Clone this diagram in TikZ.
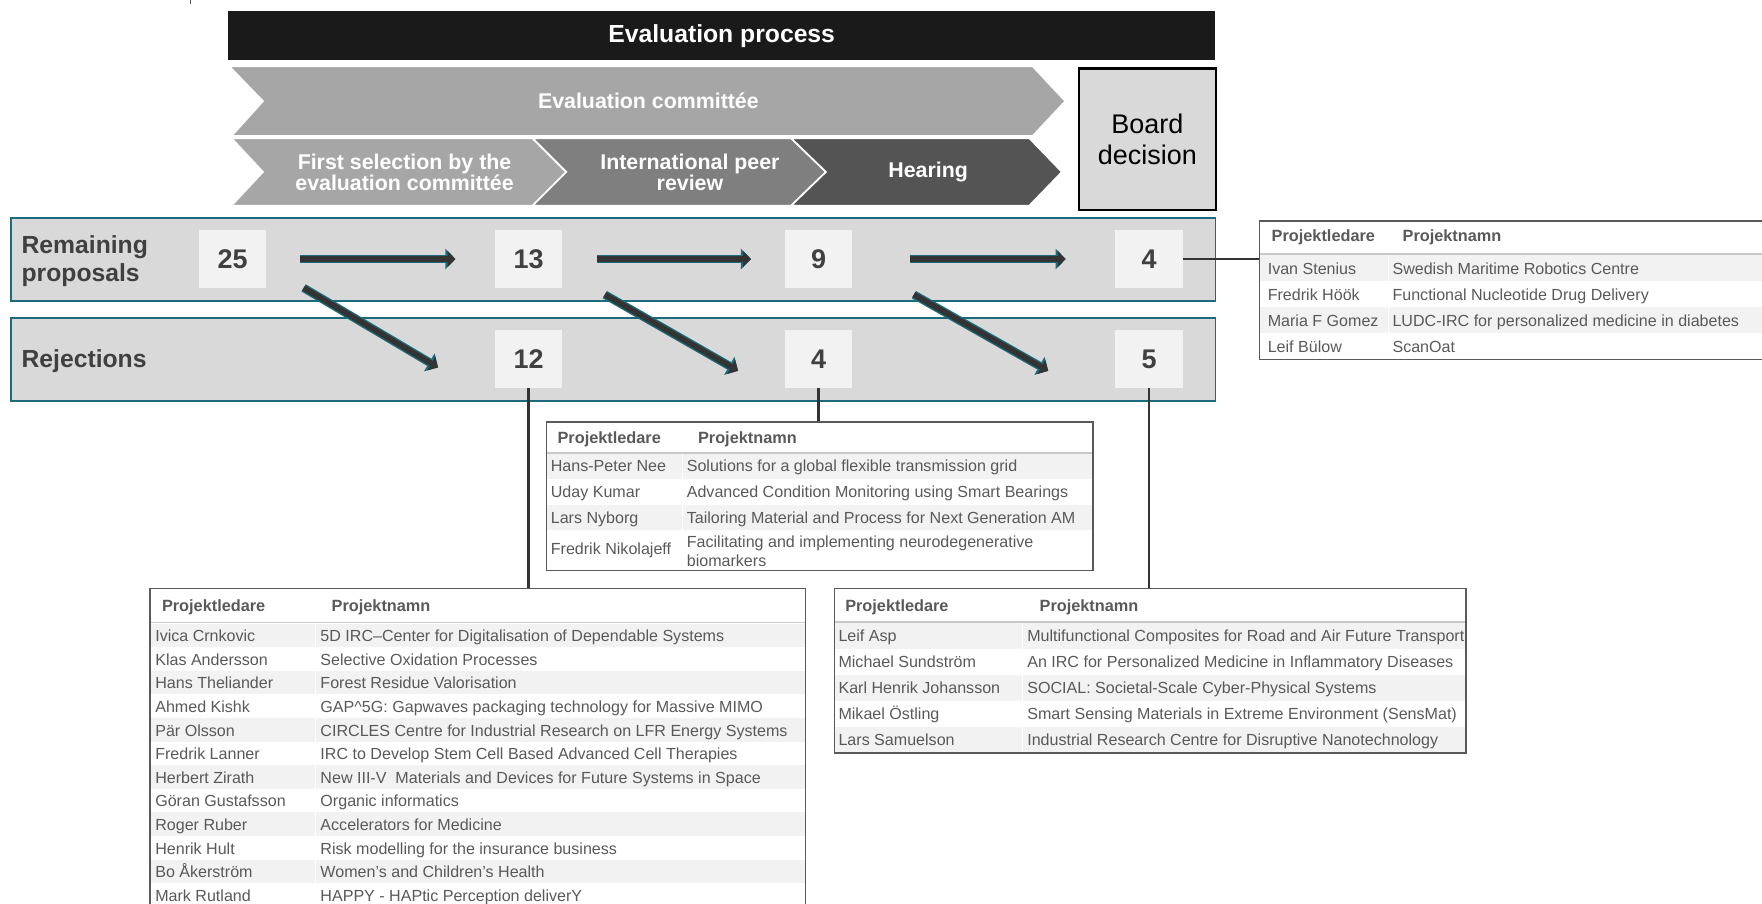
\documentclass[tikz,border=0pt]{standalone}
\usepackage{fontspec}
\setmainfont{Liberation Sans}
\usetikzlibrary{arrows.meta}

\definecolor{barblack}{HTML}{1A1A1A}
\definecolor{chevlight}{HTML}{A6A6A6}
\definecolor{chevmid}{HTML}{7F7F7F}
\definecolor{chevdark}{HTML}{545454}
\definecolor{bandgrey}{HTML}{D9D9D9}
\definecolor{bandteal}{HTML}{1B6B7D}
\definecolor{boxgrey}{HTML}{F2F2F2}
\definecolor{numtext}{HTML}{404040}
\definecolor{tabtext}{HTML}{595959}
\definecolor{arrowgrey}{HTML}{333333}
\definecolor{headline}{HTML}{C8C8C8}

\tikzset{
  band/.style={draw=bandteal, line width=1.5pt, fill=bandgrey, minimum width=1072pt, minimum height=74pt, anchor=north west, inner sep=0pt},
  bandlabel/.style={anchor=west, inner sep=0pt, align=left, text=numtext, font=\fontsize{22}{25}\selectfont\bfseries},
  count/.style={fill=boxgrey, minimum width=60pt, minimum height=51pt, inner sep=0pt, text=numtext, font=\fontsize{24}{24}\selectfont\bfseries},
  chevron/.style={draw=white, line width=1.5pt},
  chevtext/.style={text=white, align=center, inner sep=0pt, font=\fontsize{19}{19}\selectfont\bfseries},
  flowarrow/.style={draw=arrowgrey, line width=5pt, -{Triangle[width=14pt,length=7pt]},
    preaction={draw=bandteal, line width=7.5pt, -{Triangle[width=18pt,length=9pt]}}},
  link/.style={draw=arrowgrey, line width=2.5pt},
  tabframe/.style={draw=tabtext, line width=1.2pt, anchor=north west, inner sep=0pt},
  tabhead/.style={anchor=base west, inner sep=0pt, text=tabtext, font=\fontsize{14.5}{16}\selectfont\bfseries},
  cell/.style={anchor=base west, inner sep=0pt, text=tabtext, align=left, font=\fontsize{14.3}{17}\selectfont},
  headrule/.style={draw=headline, line width=1.5pt},
  colrule/.style={draw=white, line width=0.8pt}
}

\begin{document}
\begin{tikzpicture}[x=1pt, y=-1pt]
\useasboundingbox (0,0) rectangle (1568,804);
\clip (0,0) rectangle (1568,804);
\draw[tabtext, line width=1pt] (169.5,0) -- (169.5,3.5);

\node[fill=barblack, minimum width=878pt, minimum height=43pt, anchor=north west, inner sep=0pt,
  text=white, font=\fontsize{22}{22}\selectfont\bfseries] (title) at (203,10) {Evaluation process};

\filldraw[chevron, fill=chevlight] (204,59) -- (919,59) -- (948,90) -- (919,121) -- (206,121) -- (234,90) -- cycle;
\filldraw[chevron, fill=chevlight] (206,123) -- (474,123) -- (504,153) -- (474,183) -- (206,183) -- (234,153) -- cycle;
\filldraw[chevron, fill=chevmid] (474,123) -- (704,123) -- (735,153) -- (704,183) -- (474,183) -- (504,153) -- cycle;
\filldraw[chevron, fill=chevdark] (704,123) -- (916,123) -- (945,153) -- (916,183) -- (704,183) -- (735,153) -- cycle;
\node[chevtext] (committee) at (577,89.5) {Evaluation committée};
\node[chevtext] (firstsel) at (360,153.5) {First selection by the\\evaluation committée};
\node[chevtext] (peer) at (614,153.5) {International peer\\review};
\node[chevtext] (hearing) at (826,153) {Hearing};

\node[draw=black, line width=2pt, fill=bandgrey, minimum width=122pt, minimum height=126pt, anchor=north west,
  align=center, font=\fontsize{24}{28}\selectfont] (board) at (959,60) {Board\\decision};

\node[band] (remaining) at (9,193) {};
\node[band] (rejected) at (9,282) {};
\node[bandlabel] (remtext) at (19,232.5) {Remaining\\proposals};
\node[bandlabel] (rejtext) at (19,321.5) {Rejections};

\node[count] (c25) at (207,230.5) {25};
\node[count] (c13) at (470.5,230.5) {13};
\node[count] (c9) at (728.5,230.5) {9};
\node[count] (c4) at (1022.5,230.5) {4};
\node[count] (r12) at (470.5,319.5) {12};
\node[count] (r4) at (728.5,319.5) {4};
\node[count] (r5) at (1022.5,319.5) {5};

\draw[flowarrow] ([xshift=30pt]c25.east) -- ([xshift=-35pt]c13.west);
\draw[flowarrow] ([xshift=31pt]c13.east) -- ([xshift=-30pt]c9.west);
\draw[flowarrow] ([xshift=51pt]c9.east) -- ([xshift=-44pt]c4.west);
\draw[flowarrow] ([xshift=33pt]c25.south east) -- ([xshift=-50.5pt,yshift=-7.5pt]r12.west);
\draw[flowarrow] ([xshift=37.5pt,yshift=-6pt]c13.south east) -- ([xshift=-41.5pt,yshift=-10.5pt]r4.west);
\draw[flowarrow] ([xshift=54.5pt,yshift=-6pt]c9.south east) -- ([xshift=-59.5pt,yshift=-10.5pt]r5.west);

\foreach \who/\what [count=\i] in {
  Ivan Stenius/Swedish Maritime Robotics Centre,
  Fredrik Höök/Functional Nucleotide Drug Delivery,
  Maria F Gomez/LUDC-IRC for personalized medicine in diabetes,
  Leif Bülow/ScanOat}{
  \ifodd\i \fill[boxgrey] (1120,{227+23.1*(\i-1)}) rectangle ++(460,23.1); \fi
  \node[cell] (fundname\i) at (1128,{244+23.1*(\i-1)}) {\who};
  \node[cell] (fundproj\i) at (1239,{244+23.1*(\i-1)}) {\what};
}
\draw[colrule] (1236,227) -- (1236,319.4);
\draw[headrule] (1120,226) -- (1580,226);
\node[tabhead] (fundhead1) at (1131.5,215) {Projektledare};
\node[tabhead] (fundhead2) at (1248,215) {Projektnamn};
\node[tabframe, minimum width=460pt, minimum height=123.4pt] (tabfunded) at (1120,196) {};

\foreach \who/\what [count=\i] in {
  Hans-Peter Nee/Solutions for a global flexible transmission grid,
  Uday Kumar/Advanced Condition Monitoring using Smart Bearings,
  Lars Nyborg/Tailoring Material and Process for Next Generation AM}{
  \ifodd\i \fill[boxgrey] (486,{403+23*(\i-1)}) rectangle ++(486,23); \fi
  \node[cell] (peername\i) at (490,{419.5+23*(\i-1)}) {\who};
  \node[cell] (peerproj\i) at (611,{419.5+23*(\i-1)}) {\what};
}
\node[cell, anchor=west] (peername4) at (490,490) {Fredrik Nikolajeff};
\node[cell, anchor=west] (peerproj4) at (611,490.5) {Facilitating and implementing neurodegenerative\\biomarkers};
\draw[colrule] (607,403) -- (607,507);
\draw[headrule] (486,403) -- (972,403);
\node[tabhead] (peerhead1) at (496,395) {Projektledare};
\node[tabhead] (peerhead2) at (621,395) {Projektnamn};
\node[tabframe, minimum width=486pt, minimum height=132pt] (tabpeer) at (486,375) {};

\foreach \who/\what [count=\i] in {
  Ivica Crnkovic/5D IRC–Center for Digitalisation of Dependable Systems,
  Klas Andersson/Selective Oxidation Processes,
  Hans Theliander/Forest Residue Valorisation,
  Ahmed Kishk/GAP\textasciicircum{}5G: Gapwaves packaging technology for Massive MIMO,
  Pär Olsson/CIRCLES Centre for Industrial Research on LFR Energy Systems,
  Fredrik Lanner/IRC to Develop Stem Cell Based Advanced Cell Therapies,
  Herbert Zirath/New III-V~ Materials and Devices for Future Systems in Space,
  Göran Gustafsson/Organic informatics,
  Roger Ruber/Accelerators for Medicine,
  Henrik Hult/Risk modelling for the insurance business,
  Bo Åkerström/Women's and Children's Health,
  Mark Rutland/HAPPY - HAPtic Perception deliverY}{
  \ifodd\i \fill[boxgrey] (133,{555+21*(\i-1)}) rectangle ++(583,21); \fi
  \node[cell] (firstname\i) at (138,{571+21*(\i-1)}) {\who};
  \node[cell] (firstproj\i) at (285,{571+21*(\i-1)}) {\what};
}
\draw[colrule] (281,555) -- (281,820);
\draw[headrule] (133,554) -- (716,554);
\node[tabhead] (firsthead1) at (144,544) {Projektledare};
\node[tabhead] (firsthead2) at (295,544) {Projektnamn};
\node[tabframe, minimum width=583pt, minimum height=300pt] (tabfirst) at (133,523) {};

\foreach \who/\what [count=\i] in {
  Leif Asp/Multifunctional Composites for Road and Air Future Transport,
  Michael Sundström/An IRC for Personalized Medicine in Inflammatory Diseases,
  Karl Henrik Johansson/SOCIAL: Societal-Scale Cyber-Physical Systems,
  Mikael Östling/{Smart Sensing Materials in Extreme Environment (SensMat)},
  Lars Samuelson/Industrial Research Centre for Disruptive Nanotechnology}{
  \ifodd\i \fill[boxgrey] (742,{554.5+23*(\i-1)}) rectangle ++(562,23); \fi
  \node[cell] (hearname\i) at (746,{571+23*(\i-1)}) {\who};
  \node[cell] (hearproj\i) at (914,{571+23*(\i-1)}) {\what};
}
\draw[colrule] (910,554.5) -- (910,669.5);
\draw[headrule] (742,553.5) -- (1304,553.5);
\node[tabhead] (hearhead1) at (752,544) {Projektledare};
\node[tabhead] (hearhead2) at (925,544) {Projektnamn};
\node[tabframe, minimum width=562pt, minimum height=146.5pt] (tabhearing) at (742,523) {};

\draw[link] (c4.east) -- (c4.east -| tabfunded.west);
\draw[link] (r12.south) -- (r12.south |- tabfirst.north);
\draw[link] (r4.south) -- (r4.south |- tabpeer.north);
\draw[link] (r5.south) -- (r5.south |- tabhearing.north);
\end{tikzpicture}
\end{document}
